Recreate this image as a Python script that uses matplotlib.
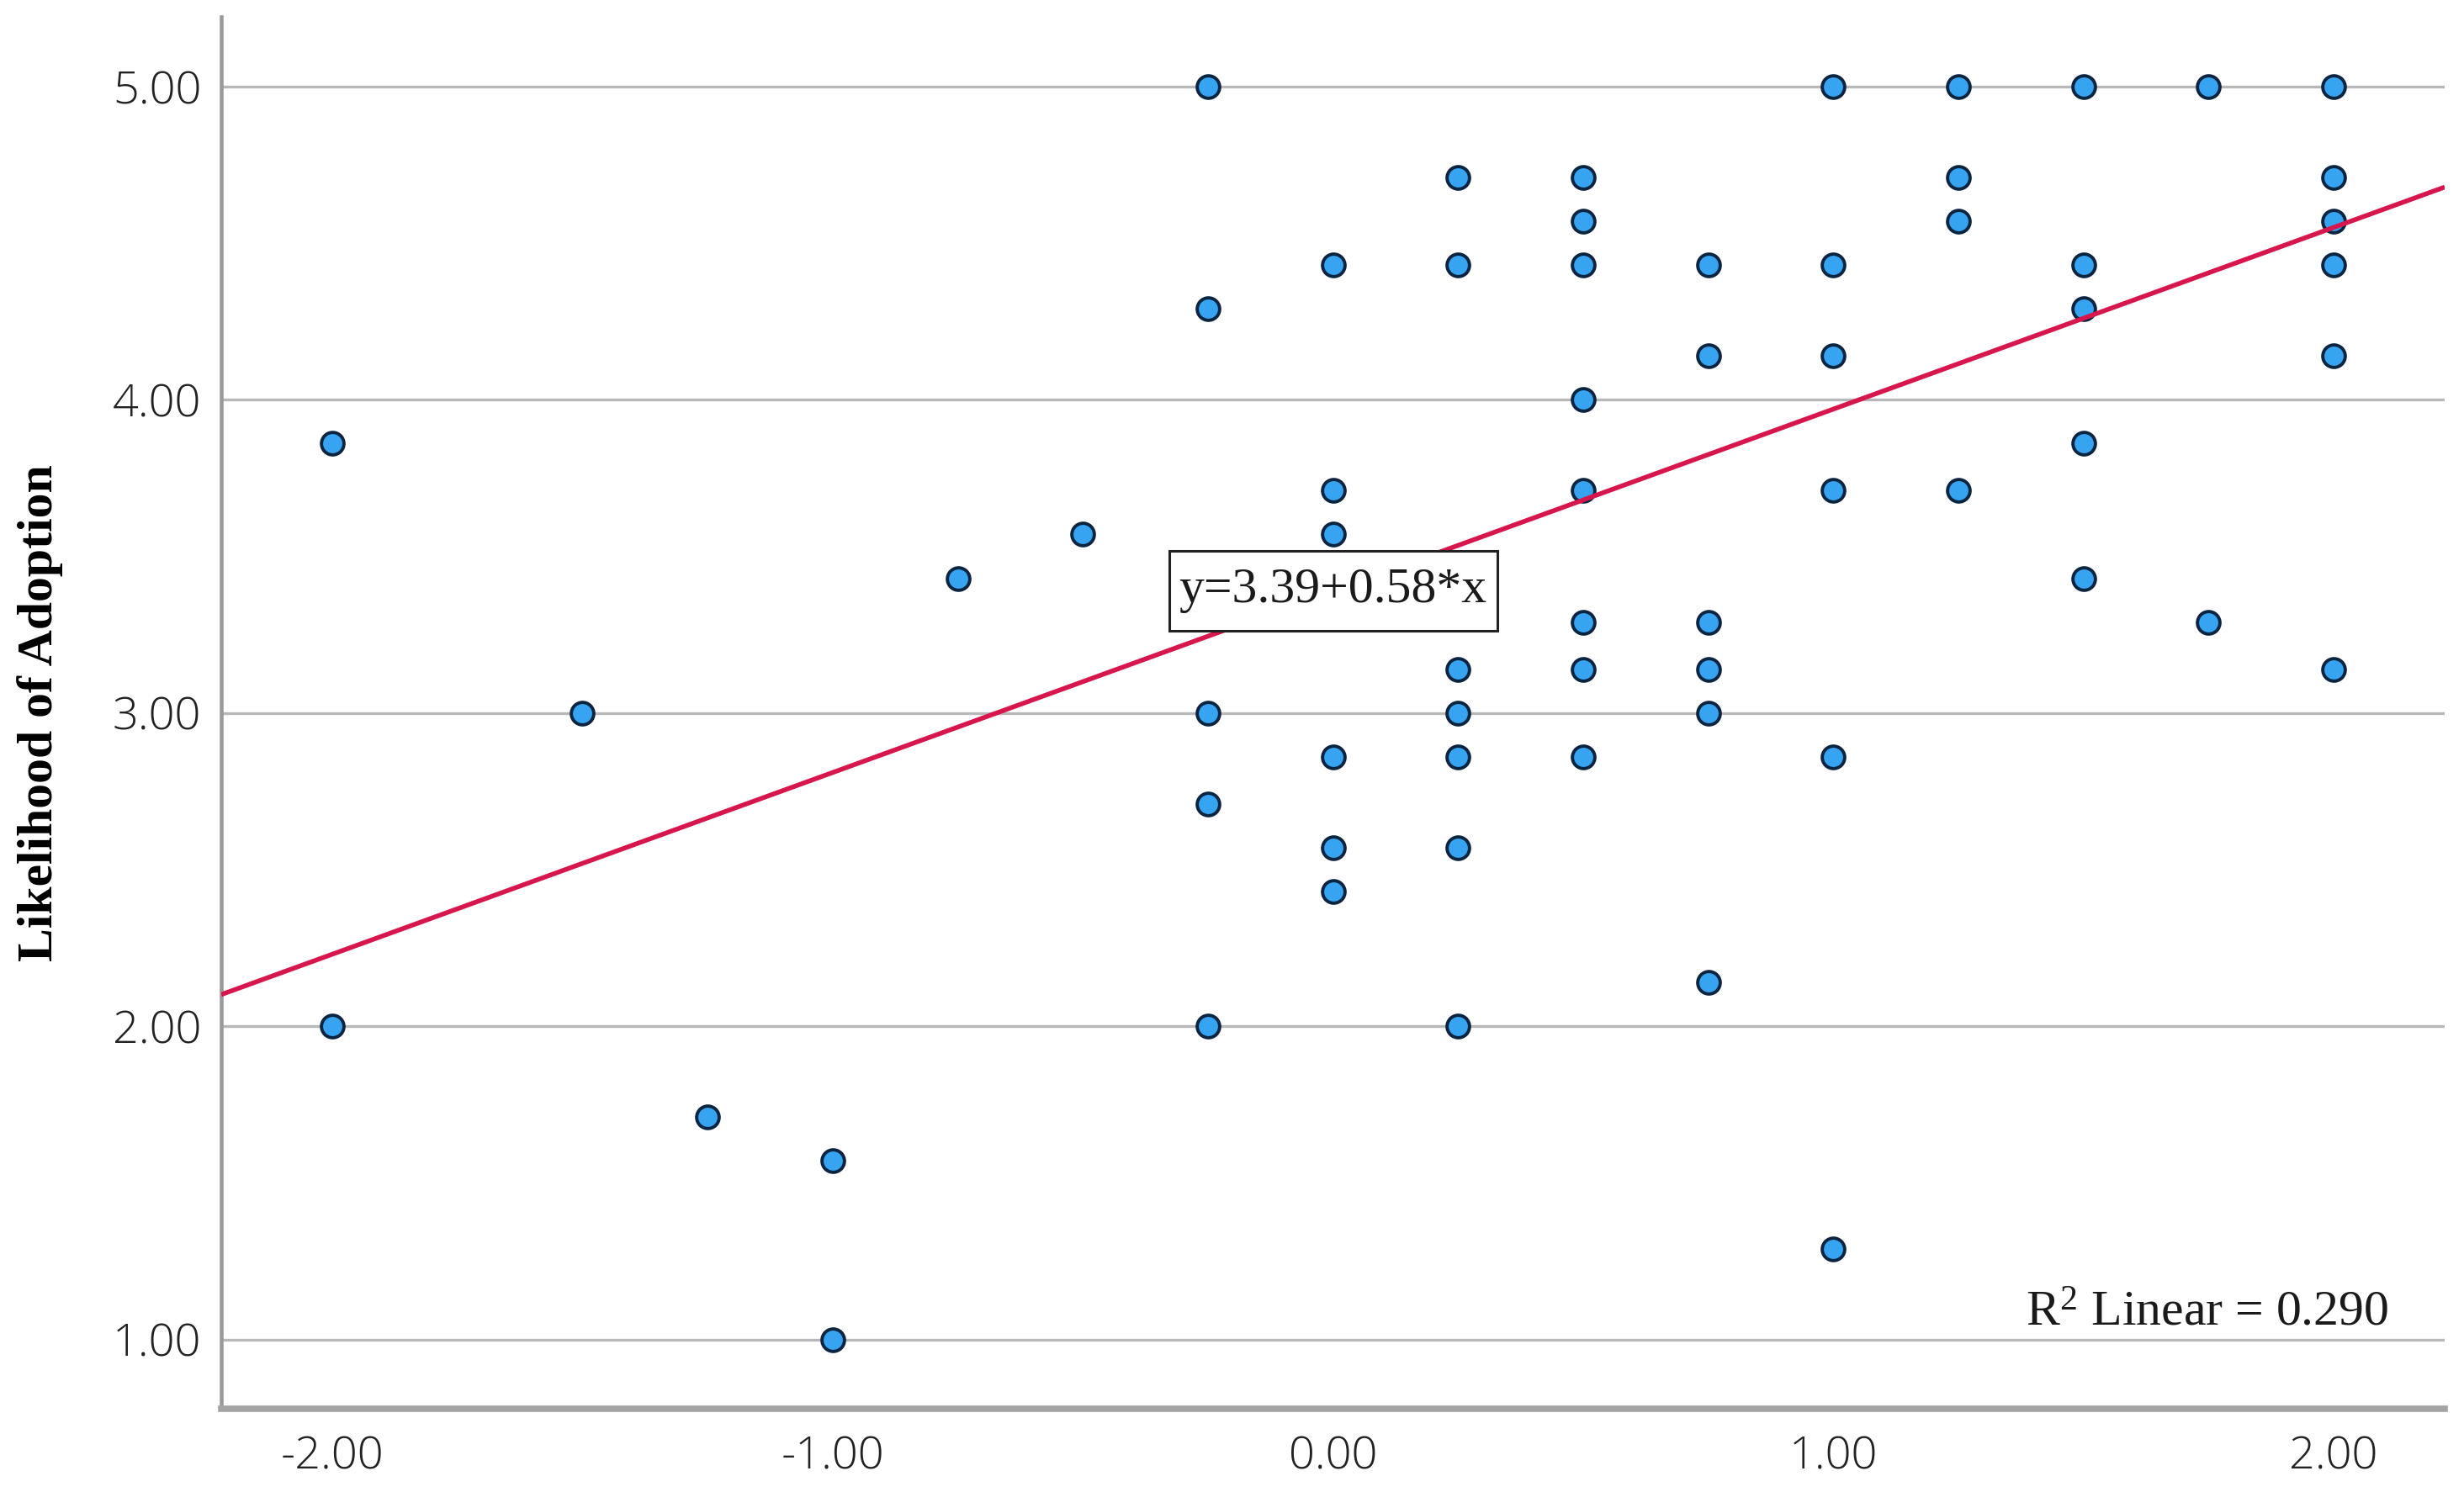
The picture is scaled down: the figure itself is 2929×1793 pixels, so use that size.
import matplotlib
matplotlib.use("Agg")
import matplotlib.pyplot as plt
from matplotlib.path import Path
import numpy as np

# ---------------- data ----------------
x_vals = [-2.0, -2.0,
          -1.5,
          -1.25,
          -1.0, -1.0,
          -0.75,
          -0.5,
          -0.25, -0.25, -0.25, -0.25, -0.25,
          0.0, 0.0, 0.0, 0.0, 0.0, 0.0,
          0.25, 0.25, 0.25, 0.25, 0.25, 0.25, 0.25,
          0.5, 0.5, 0.5, 0.5, 0.5, 0.5, 0.5, 0.5,
          0.75, 0.75, 0.75, 0.75, 0.75, 0.75,
          1.0, 1.0, 1.0, 1.0, 1.0, 1.0,
          1.25, 1.25, 1.25, 1.25,
          1.5, 1.5, 1.5, 1.5, 1.5,
          1.75, 1.75,
          2.0, 2.0, 2.0, 2.0, 2.0, 2.0]
y_vals = [3.86, 2.00,
          3.00,
          1.71,
          1.57, 1.00,
          3.43,
          3.57,
          5.00, 4.29, 3.00, 2.71, 2.00,
          4.43, 3.71, 3.57, 2.86, 2.57, 2.43,
          4.71, 4.43, 3.14, 3.00, 2.86, 2.57, 2.00,
          4.71, 4.57, 4.43, 4.00, 3.71, 3.29, 3.14, 2.86,
          4.43, 4.14, 3.29, 3.14, 3.00, 2.14,
          5.00, 4.43, 4.14, 3.71, 2.86, 1.29,
          5.00, 4.71, 4.57, 3.71,
          5.00, 4.43, 4.29, 3.86, 3.43,
          5.00, 3.29,
          5.00, 4.71, 4.57, 4.43, 4.14, 3.14]

intercept = 3.39
slope = 0.58
r_squared = 0.290

x_ticks = [-2.0, -1.0, 0.0, 1.0, 2.0]
y_ticks = [1.0, 2.0, 3.0, 4.0, 5.0]
y_label = "Likelihood of Adoption"

# ---------------- style ----------------
plt.rcParams['axes.unicode_minus'] = False
plt.rcParams['mathtext.fontset'] = 'custom'
plt.rcParams['mathtext.rm'] = 'Liberation Serif'
plt.rcParams['mathtext.it'] = 'Liberation Serif:italic'

SERIF = ['Liberation Serif', 'DejaVu Serif']
SANS = ['Open Sans', 'DejaVu Sans']


def label_box(x0, y0, width, height, mutation_size):
    """Square box with a little more vertical than horizontal padding."""
    padx = 0.2 * mutation_size
    pady = 0.34 * mutation_size
    x0, y0 = x0 - padx, y0 - pady
    x1, y1 = x0 + width + 2 * padx, y0 + height + 2 * pady
    return Path([(x0, y0), (x1, y0), (x1, y1), (x0, y1), (x0, y0)],
                closed=True)


fig = plt.figure(figsize=(29.29, 17.93), dpi=100)
ax = fig.add_axes([0.0898, 0.0658, 0.9024, 0.9230])

xlim = (-2.222, 2.222)
ylim = (0.779, 5.222)
ax.set_xlim(*xlim)
ax.set_ylim(*ylim)

# gridlines
ax.set_yticks(y_ticks)
ax.set_xticks(x_ticks)
ax.yaxis.grid(True, color='#b8b8b8', linewidth=2.4, zorder=0)
ax.xaxis.grid(False)
ax.set_axisbelow(True)

# spines
for s in ['top', 'right']:
    ax.spines[s].set_visible(False)
ax.spines['left'].set_color('#9a9a9a')
ax.spines['left'].set_linewidth(3.3)
ax.spines['bottom'].set_color('#a4a4a4')
ax.spines['bottom'].set_linewidth(5.5)

# ticks
ax.tick_params(axis='both', length=0, labelsize=39, colors='#222222')
ax.tick_params(axis='y', pad=17)
ax.tick_params(axis='x', pad=22)
ax.set_xticklabels([f"{v:.2f}" for v in x_ticks], family=SANS, fontweight='light')
ax.set_yticklabels([f"{v:.2f}" for v in y_ticks], family=SANS, fontweight='light')

# scatter
ax.scatter(x_vals, y_vals, s=370, facecolor='#36a4f0', edgecolor='#0b2440',
           linewidth=2.8, zorder=3)

# regression line
xl = np.array(xlim)
ax.plot(xl, intercept + slope * xl, color='#d6164c', linewidth=4.0, zorder=4,
        solid_capstyle='butt')

# equation label at the intercept
ax.text(0.0, intercept, f"y={intercept:.2f}+{slope:.2f}*x", fontsize=43,
        family=SERIF, ha='center', va='center', zorder=5, color='#1a1a1a',
        bbox=dict(boxstyle=label_box, facecolor='white',
                  edgecolor='#222222', linewidth=2.2))

# R^2 annotation
ax.text(2.11, 1.045, "R$^{2}$ Linear = " + f"{r_squared:.3f}", fontsize=43,
        family=SERIF, ha='right', va='baseline', color='#1a1a1a', zorder=5)

# y label
ax.set_ylabel(y_label, fontsize=43, fontweight='bold', family=SERIF)
ax.yaxis.set_label_coords(-0.071, 0.5)

fig.savefig('out.png', dpi=100, facecolor='white')
